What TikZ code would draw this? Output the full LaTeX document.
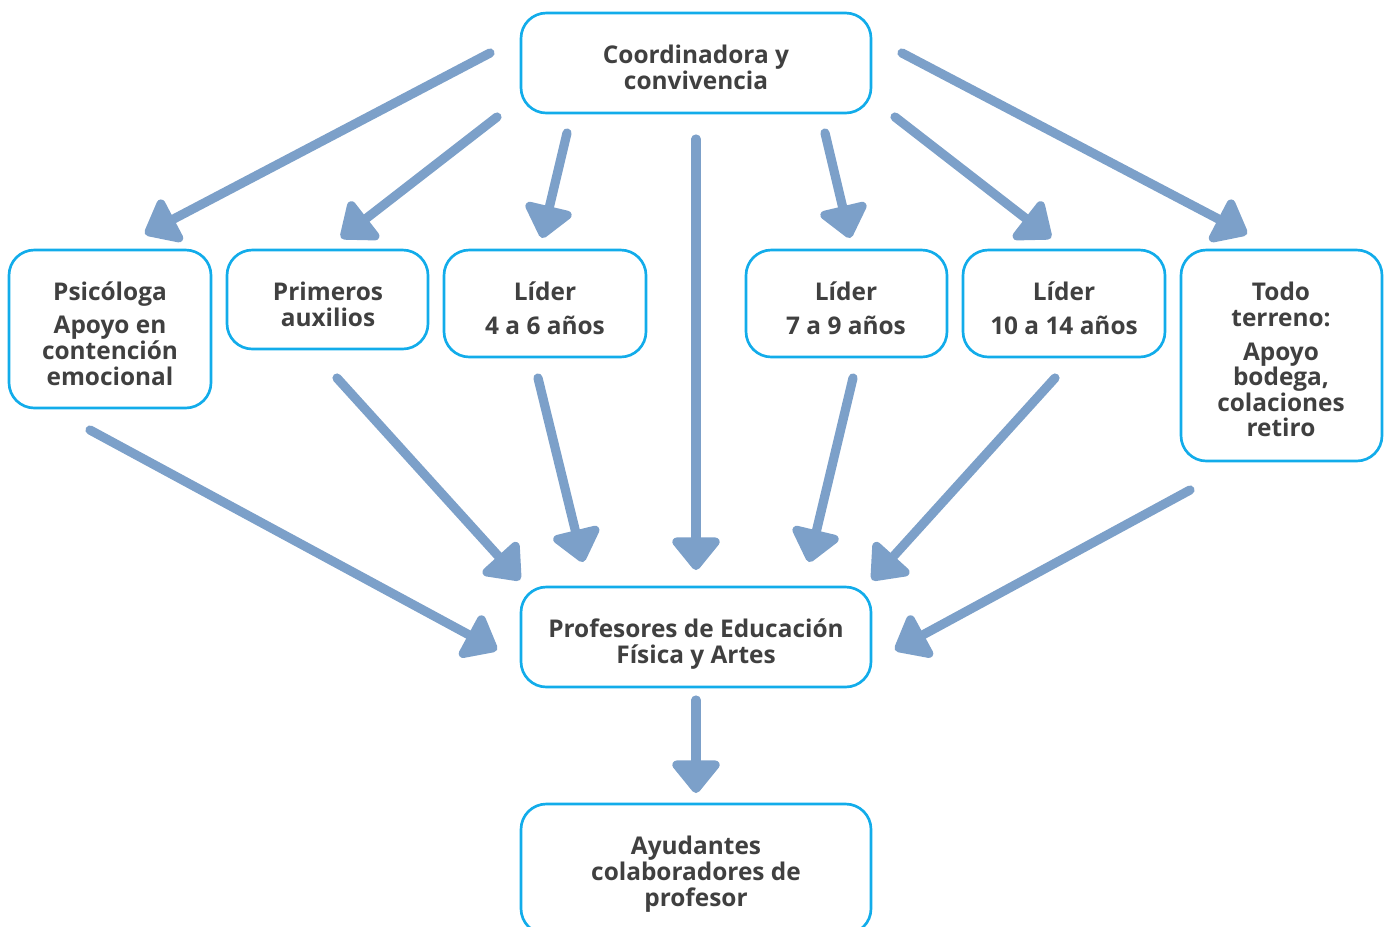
\documentclass[tikz,border=0pt]{standalone}
\usepackage{fontspec}
\setmainfont{Open Sans}
\usetikzlibrary{arrows.meta,fit}
\definecolor{boxc}{RGB}{18,172,234}
\definecolor{arrowc}{RGB}{124,160,201}
\definecolor{txtc}{RGB}{64,64,64}
\tikzset{
  box/.style={draw=boxc, line width=2pt, rounded corners=19pt, inner sep=0pt, outer sep=0pt, rectangle},
  lbl/.style={anchor=north, align=center, inner sep=0pt, text=txtc,
    font=\fontsize{18.3pt}{19.2pt}\selectfont\bfseries,
    execute at begin node={\rule{0pt}{18pt}}},
  arr/.style={draw=arrowc, line width=6.9pt, line cap=round,
    -{Triangle[length=26.5pt, width=41pt, round]}}
}
\begin{document}
\begin{tikzpicture}[x=0.75pt, y=-0.75pt]
\useasboundingbox (0,0) rectangle (1385,926);
% boxes
\node[box, fit={(521,13) (871,113)}] (coord) {};
\node[box, fit={(9,250) (211,408)}] (psi) {};
\node[box, fit={(227,250) (428,349)}] (prim) {};
\node[box, fit={(444,250) (646,357)}] (l46) {};
\node[box, fit={(746,250) (947,357)}] (l79) {};
\node[box, fit={(963,250) (1165,357)}] (l1014) {};
\node[box, fit={(1181,250) (1382,461)}] (todo) {};
\node[box, fit={(521,587) (871,687)}] (prof) {};
\node[box, fit={(521,804) (871,934)}] (ayud) {};
% labels
\node[lbl] (coordT) at (696,45) {Coordinadora y\\convivencia};
\node[lbl] (psiT) at (110,282) {Psicóloga\\[5.5pt]Apoyo en\\contención\\emocional};
\node[lbl] (primT) at (328,282) {Primeros\\auxilios};
\node[lbl] (l46T) at (545,282) {Líder\\[6pt]4 a 6 años};
\node[lbl] (l79T) at (846,282) {Líder\\[6pt]7 a 9 años};
\node[lbl] (l1014T) at (1064,282) {Líder\\[6pt]10 a 14 años};
\node[lbl] (todoT) at (1281,282) {Todo\\terreno:\\[6pt]Apoyo\\bodega,\\colaciones\\retiro};
\node[lbl] (profT) at (696,619) {Profesores de Educación\\Física y Artes};
\node[lbl] (ayudT) at (696,836) {Ayudantes\\colaboradores de\\profesor};
% connector ends
\coordinate (a1s) at (490,53);   \coordinate (a1e) at (145,234);
\coordinate (a2s) at (497,117);  \coordinate (a2e) at (341,238);
\coordinate (a3s) at (567,133);  \coordinate (a3e) at (542,238);
\coordinate (a4s) at (696,139);  \coordinate (a4e) at (696,570);
\coordinate (a5s) at (825,133);  \coordinate (a5e) at (850,238);
\coordinate (a6s) at (895,117);  \coordinate (a6e) at (1051,238);
\coordinate (a7s) at (902,53);   \coordinate (a7e) at (1247,234);
\coordinate (b8s) at (90,430);   \coordinate (b8e) at (497,650);
\coordinate (b9s) at (337,378);  \coordinate (b9e) at (520,580);
\coordinate (b10s) at (538,378); \coordinate (b10e) at (583,562);
\coordinate (b11s) at (853,378); \coordinate (b11e) at (809,562);
\coordinate (b12s) at (1055,378);\coordinate (b12e) at (872,580);
\coordinate (b13s) at (1190,490);\coordinate (b13e) at (895,650);
\coordinate (b14s) at (696,700); \coordinate (b14e) at (696,793);
% connectors
\foreach \n in {a1,a2,a3,a4,a5,a6,a7,b8,b9,b10,b11,b12,b13,b14}
  \draw[arr] (\n s) -- (\n e);
\end{tikzpicture}
\end{document}
